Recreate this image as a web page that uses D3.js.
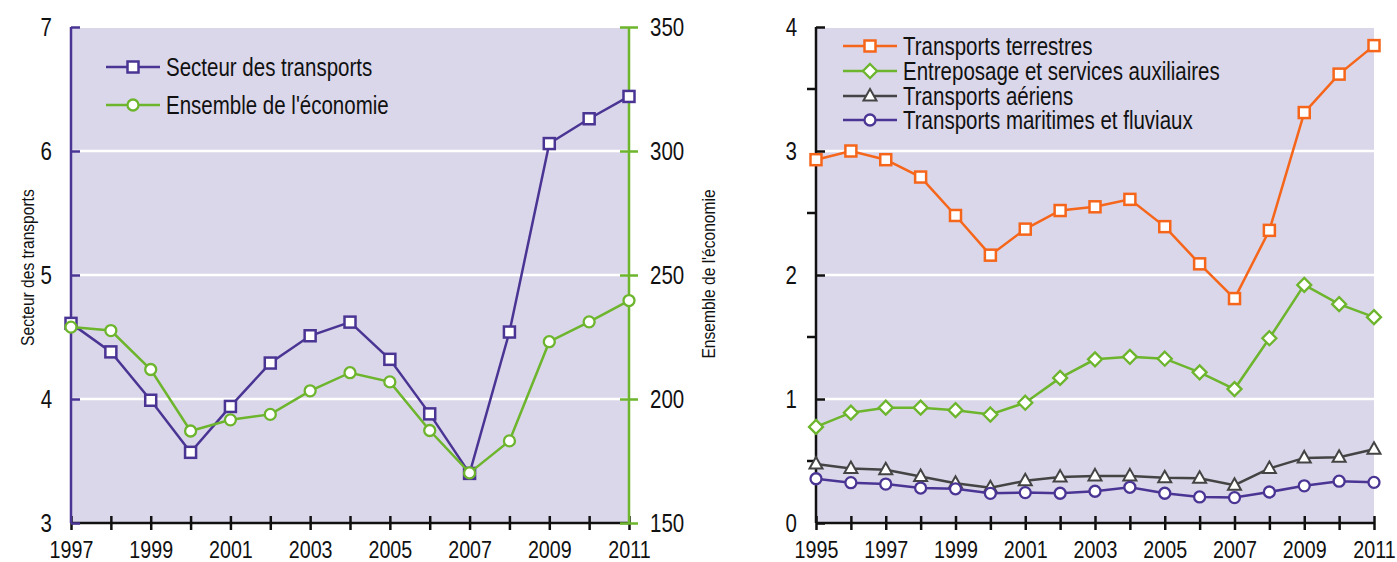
<!DOCTYPE html>
<html>
<head>
<meta charset="utf-8">
<script src="https://cdn.jsdelivr.net/npm/d3@7"></script>
<style>
  body { margin: 0; background: #fff; }
  text { font-family: "Liberation Sans", Arial, sans-serif; fill: #111; }
</style>
</head>
<body>
<script>
// donnees graphique de gauche
var anneesG = [1997, 1998, 1999, 2000, 2001, 2002, 2003, 2004, 2005, 2006, 2007, 2008, 2009, 2010, 2011];
var secteurTransports = [4.61, 4.38, 3.99, 3.57, 3.94, 4.29, 4.51, 4.62, 4.32, 3.88, 3.40, 4.54, 6.06, 6.26, 6.44];
var ensembleEconomie = [229.0, 227.6, 211.9, 187.1, 191.6, 193.8, 203.3, 210.6, 206.9, 187.3, 170.2, 183.1, 223.1, 231.1, 239.7];
var ticksGauche = [3, 4, 5, 6, 7];
var ticksDroite = [150, 200, 250, 300, 350];

// donnees graphique de droite
var anneesD = [1995, 1996, 1997, 1998, 1999, 2000, 2001, 2002, 2003, 2004, 2005, 2006, 2007, 2008, 2009, 2010, 2011];
var terrestres = [2.93, 3.00, 2.93, 2.79, 2.48, 2.16, 2.37, 2.52, 2.55, 2.61, 2.39, 2.09, 1.81, 2.36, 3.31, 3.62, 3.85];
var entreposage = [0.775, 0.89, 0.93, 0.93, 0.91, 0.875, 0.97, 1.17, 1.32, 1.34, 1.325, 1.215, 1.08, 1.49, 1.92, 1.765, 1.66];
var aeriens = [0.475, 0.44, 0.43, 0.375, 0.32, 0.285, 0.34, 0.37, 0.38, 0.38, 0.365, 0.36, 0.305, 0.44, 0.525, 0.53, 0.595];
var maritimes = [0.357, 0.325, 0.314, 0.282, 0.276, 0.239, 0.245, 0.24, 0.256, 0.288, 0.24, 0.21, 0.205, 0.25, 0.30, 0.337, 0.328];
var ticksD = [0, 1, 2, 3, 4];
var ticksDMineurs = [0.5, 1.5, 2.5, 3.5];

var violet = "#4a3594";
var vert = "#6cb52d";
var orange = "#f5661a";
var gris = "#444444";
var fond = "#dbd7ea";

var svg = d3.select("body").append("svg").attr("width", 1397).attr("height", 562);

// police etroite : Liberation Sans compressee horizontalement
function etroit(sel, origine) {
  sel.style("transform-box", "fill-box")
    .style("transform-origin", origine)
    .style("transform", "scaleX(0.82)");
}

// symbole de marqueur
function marqueur(g, type, x, y, couleur) {
  if (type == "carre") {
    g.append("rect").attr("x", x - 5.5).attr("y", y - 5.5).attr("width", 11).attr("height", 11)
      .style("fill", "#fff").style("stroke", couleur).style("stroke-width", 2.5);
  } else if (type == "rond") {
    g.append("circle").attr("cx", x).attr("cy", y).attr("r", 5.5)
      .style("fill", "#fff").style("stroke", couleur).style("stroke-width", 2.3);
  } else if (type == "losange") {
    g.append("path").attr("d", "M" + x + "," + (y - 7) + " L" + (x + 7) + "," + y + " L" + x + "," + (y + 7) + " L" + (x - 7) + "," + y + "Z")
      .style("fill", "#fff").style("stroke", couleur).style("stroke-width", 2.3);
  } else if (type == "triangle") {
    g.append("path").attr("d", "M" + x + "," + (y - 7) + " L" + (x + 6.5) + "," + (y + 4.5) + " L" + (x - 6.5) + "," + (y + 4.5) + "Z")
      .style("fill", "#fff").style("stroke", couleur).style("stroke-width", 2);
  }
}

function serie(g, annees, valeurs, xs, ys, couleur, type) {
  var ligne = d3.line().x(function (d, i) { return xs(annees[i]); }).y(function (d) { return ys(d); });
  g.append("path").datum(valeurs).attr("d", ligne)
    .style("fill", "none").style("stroke", couleur).style("stroke-width", 2.5);
  valeurs.forEach(function (v, i) { marqueur(g, type, xs(annees[i]), ys(v), couleur); });
}

function legende(g, x, y, texte, couleur, type) {
  g.append("line").attr("x1", x).attr("x2", x + 54).attr("y1", y).attr("y2", y)
    .style("stroke", couleur).style("stroke-width", 2.5);
  marqueur(g, type, x + 27, y, couleur);
  g.append("text").attr("x", x + 60).attr("y", y).attr("dy", "0.35em")
    .style("font-size", "25px").text(texte)
    .call(etroit, "0% 50%");
}

function styleAxe(a, couleur, taille, origine) {
  a.select(".domain").remove();
  a.selectAll(".tick line").style("stroke", couleur).style("stroke-width", 2.5);
  a.selectAll(".tick text").style("font-size", taille + "px").style("fill", "#111")
    .style("font-family", "'Liberation Sans', Arial, sans-serif")
    .call(etroit, origine);
}

// ---------- Graphique de gauche ----------
var xG = d3.scaleLinear().domain([1997, 2011]).range([71, 629]);
var yG = d3.scaleLinear().domain([3, 7]).range([523, 27]);
var yG2 = d3.scaleLinear().domain([150, 350]).range([523, 27]);

var gG = svg.append("g");
gG.append("rect").attr("x", 71).attr("y", 28).attr("width", 558).attr("height", 495).style("fill", fond);

// lignes de grille blanches
ticksGauche.slice(1, -1).forEach(function (t) {
  gG.append("line").attr("x1", 71).attr("x2", 629).attr("y1", yG(t)).attr("y2", yG(t))
    .style("stroke", "#fff").style("stroke-width", 2.5);
});

// axe x
var axeXG = gG.append("g").attr("transform", "translate(0,523)")
  .call(d3.axisBottom(xG).tickValues(anneesG).tickSizeInner(7).tickSizeOuter(0).tickPadding(11)
    .tickFormat(function (d) { return (d % 2 == 1) ? d : ""; }));
styleAxe(axeXG, "#111", 24, "50% 50%");
axeXG.selectAll(".tick line").attr("y1", -7);
gG.append("line").attr("x1", 71).attr("x2", 629).attr("y1", 523).attr("y2", 523).style("stroke", "#111").style("stroke-width", 2.5);

// axe gauche (violet)
var axeYG = gG.append("g").attr("transform", "translate(71,0)")
  .call(d3.axisLeft(yG).tickValues(ticksGauche).tickSizeInner(9).tickPadding(10).tickFormat(d3.format("d")));
styleAxe(axeYG, violet, 25, "100% 50%");
axeYG.selectAll(".tick line").attr("x2", 9);
gG.append("line").attr("x1", 71).attr("x2", 71).attr("y1", 27).attr("y2", 523).style("stroke", violet).style("stroke-width", 2.5);

// axe droit (vert)
var axeYD = gG.append("g").attr("transform", "translate(629,0)")
  .call(d3.axisRight(yG2).tickValues(ticksDroite).tickSizeInner(9).tickPadding(12).tickFormat(d3.format("d")));
styleAxe(axeYD, vert, 25, "0% 50%");
axeYD.selectAll(".tick line").attr("x1", -9);
gG.append("line").attr("x1", 629).attr("x2", 629).attr("y1", 27).attr("y2", 523).style("stroke", vert).style("stroke-width", 2.5);

serie(gG, anneesG, secteurTransports, xG, yG, violet, "carre");
serie(gG, anneesG, ensembleEconomie, xG, yG2, vert, "rond");

legende(gG, 106, 67, "Secteur des transports", violet, "carre");
legende(gG, 106, 105, "Ensemble de l'économie", vert, "rond");

// titres des axes
svg.append("text").attr("transform", "translate(27,274) rotate(-90)").attr("text-anchor", "middle")
  .style("font-size", "19px").style("transform-box", "fill-box").style("transform-origin", "50% 50%")
  .text("Secteur des transports")
  .attr("transform", "translate(27,274) rotate(-90) scale(0.82,1)");
svg.append("text").attr("text-anchor", "middle")
  .style("font-size", "19px")
  .text("Ensemble de l'économie")
  .attr("transform", "translate(715,274) rotate(-90) scale(0.82,1)");

// ---------- Graphique de droite ----------
var xD = d3.scaleLinear().domain([1995, 2011]).range([816, 1374]);
var yD = d3.scaleLinear().domain([0, 4]).range([523, 27]);

var gD = svg.append("g");
gD.append("rect").attr("x", 816).attr("y", 28).attr("width", 558).attr("height", 495).style("fill", fond);

ticksD.slice(1, -1).forEach(function (t) {
  gD.append("line").attr("x1", 816).attr("x2", 1374).attr("y1", yD(t)).attr("y2", yD(t))
    .style("stroke", "#fff").style("stroke-width", 2.5);
});

var axeXD = gD.append("g").attr("transform", "translate(0,523)")
  .call(d3.axisBottom(xD).tickValues(anneesD).tickSizeInner(7).tickSizeOuter(0).tickPadding(11)
    .tickFormat(function (d) { return (d % 2 == 1) ? d : ""; }));
styleAxe(axeXD, "#111", 24, "50% 50%");
axeXD.selectAll(".tick line").attr("y1", -7);
gD.append("line").attr("x1", 816).attr("x2", 1374).attr("y1", 523).attr("y2", 523).style("stroke", "#111").style("stroke-width", 2.5);

var axeYDr = gD.append("g").attr("transform", "translate(816,0)")
  .call(d3.axisLeft(yD).tickValues(ticksD).tickSizeInner(9).tickPadding(10).tickFormat(d3.format("d")));
styleAxe(axeYDr, "#111", 25, "100% 50%");
axeYDr.selectAll(".tick line").attr("x2", 9);
ticksDMineurs.forEach(function (t) {
  gD.append("line").attr("x1", 807).attr("x2", 816).attr("y1", yD(t)).attr("y2", yD(t))
    .style("stroke", "#111").style("stroke-width", 2.5);
});
gD.append("line").attr("x1", 816).attr("x2", 816).attr("y1", 27).attr("y2", 523).style("stroke", "#111").style("stroke-width", 2.5);

serie(gD, anneesD, terrestres, xD, yD, orange, "carre");
serie(gD, anneesD, entreposage, xD, yD, vert, "losange");
serie(gD, anneesD, aeriens, xD, yD, gris, "triangle");
serie(gD, anneesD, maritimes, xD, yD, violet, "rond");

legende(gD, 843, 46, "Transports terrestres", orange, "carre");
legende(gD, 843, 71, "Entreposage et services auxiliaires", vert, "losange");
legende(gD, 843, 96, "Transports aériens", gris, "triangle");
legende(gD, 843, 120, "Transports maritimes et fluviaux", violet, "rond");
</script>
</body>
</html>
